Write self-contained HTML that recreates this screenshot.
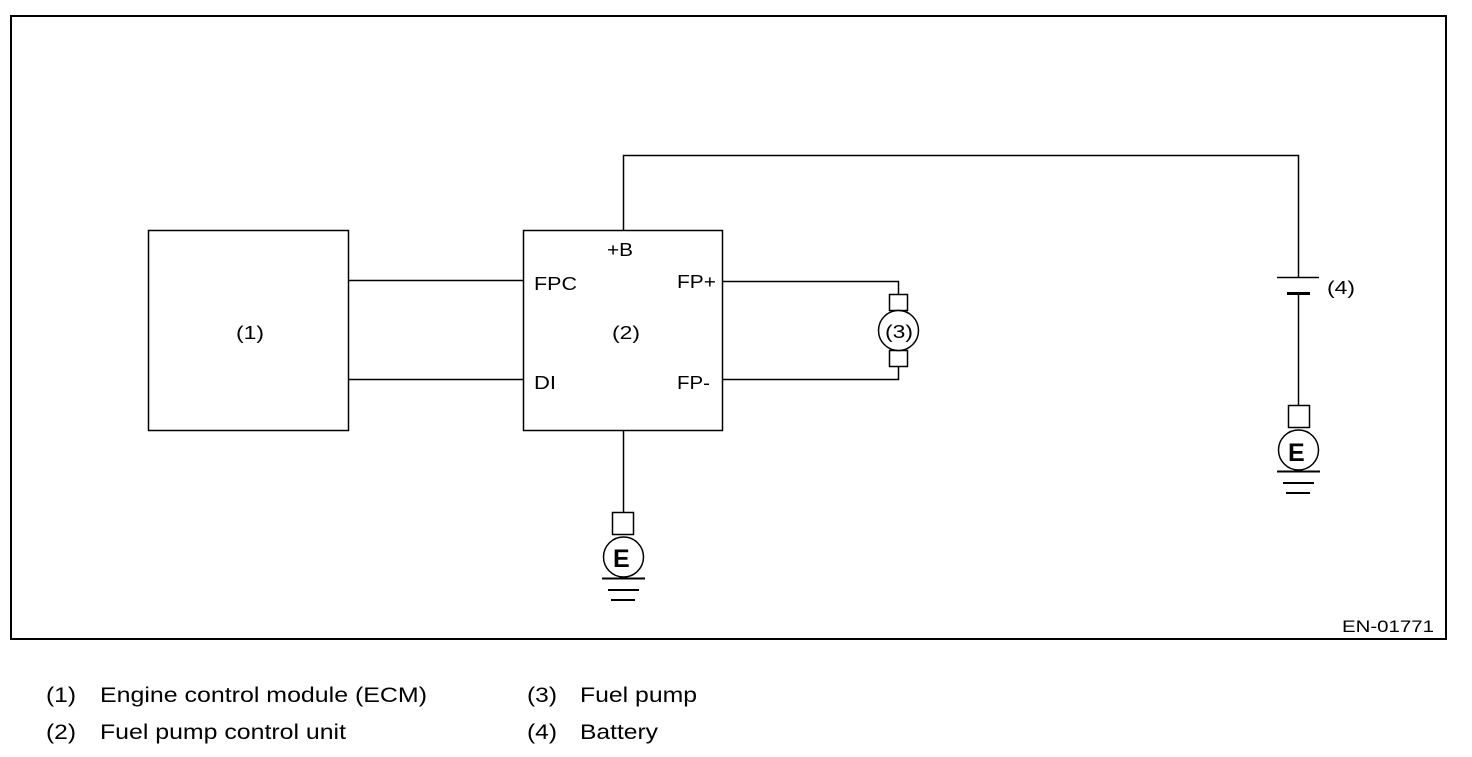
<!DOCTYPE html>
<html><head><style>
body{margin:0;background:#fff;width:1472px;height:752px;overflow:hidden;font-family:"Liberation Sans",Arial,sans-serif}
</style></head><body>
<svg width="1472" height="752" viewBox="0 0 1472 752" xmlns="http://www.w3.org/2000/svg" font-family="Liberation Sans, Arial, sans-serif">
<g fill="none" stroke="#000" stroke-width="1.5">
<rect x="11" y="16" width="1435" height="623" stroke-width="2"/>
<rect x="148.5" y="230.5" width="200" height="200"/>
<rect x="523.5" y="230.5" width="199" height="200"/>
<line x1="348" y1="280.5" x2="523" y2="280.5"/>
<line x1="348" y1="379.5" x2="523" y2="379.5"/>
<polyline points="623.5,230 623.5,155.5 1298.5,155.5 1298.5,277"/>
<line x1="1298.5" y1="293" x2="1298.5" y2="405"/>
<line x1="1277" y1="277.5" x2="1319" y2="277.5"/>
<line x1="1287" y1="293.5" x2="1310" y2="293.5" stroke-width="3"/>
<polyline points="723,281.5 898.5,281.5 898.5,294"/>
<polyline points="723,379.5 898.5,379.5 898.5,366"/>
<rect x="889.5" y="294.5" width="18" height="16"/>
<rect x="889.5" y="350.5" width="18" height="16"/>
<circle cx="898.5" cy="330.5" r="20" fill="#fff"/>
<line x1="623.5" y1="431" x2="623.5" y2="512"/>
<rect x="612.5" y="512.5" width="21" height="22"/>
<circle cx="623.5" cy="557" r="20" fill="#fff"/>
<line x1="602" y1="578.5" x2="645" y2="578.5" stroke-width="2"/>
<line x1="608" y1="590" x2="639" y2="590" stroke-width="2"/>
<line x1="611" y1="600" x2="635" y2="600" stroke-width="2"/>
<rect x="1288.5" y="405.5" width="21" height="22"/>
<circle cx="1298.5" cy="450" r="20" fill="#fff"/>
<line x1="1277" y1="471.5" x2="1320" y2="471.5" stroke-width="2"/>
<line x1="1283" y1="483" x2="1314" y2="483" stroke-width="2"/>
<line x1="1286" y1="493" x2="1310" y2="493" stroke-width="2"/>
</g>
<g font-size="18" fill="#000">
<text x="236" y="339" textLength="28" lengthAdjust="spacingAndGlyphs">(1)</text>
<text x="612" y="339" textLength="28" lengthAdjust="spacingAndGlyphs">(2)</text>
<text x="885" y="338" textLength="28" lengthAdjust="spacingAndGlyphs">(3)</text>
<text x="1327" y="294" textLength="28" lengthAdjust="spacingAndGlyphs">(4)</text>
<text x="607" y="256" textLength="26" lengthAdjust="spacingAndGlyphs">+B</text>
<text x="534" y="290" textLength="43" lengthAdjust="spacingAndGlyphs">FPC</text>
<text x="677" y="288" textLength="39" lengthAdjust="spacingAndGlyphs">FP+</text>
<text x="534" y="389" textLength="22" lengthAdjust="spacingAndGlyphs">DI</text>
<text x="677" y="389" textLength="33" lengthAdjust="spacingAndGlyphs">FP-</text>
<text x="1342" y="632" font-size="17" textLength="92" lengthAdjust="spacingAndGlyphs">EN-01771</text>
<text x="613" y="567" font-size="25" font-weight="bold">E</text>
<text x="1288" y="461" font-size="25" font-weight="bold">E</text>
<g font-size="21">
<text x="46" y="702" textLength="30" lengthAdjust="spacingAndGlyphs">(1)</text>
<text x="100" y="702" textLength="327" lengthAdjust="spacingAndGlyphs">Engine control module (ECM)</text>
<text x="46" y="739" textLength="30" lengthAdjust="spacingAndGlyphs">(2)</text>
<text x="100" y="739" textLength="246" lengthAdjust="spacingAndGlyphs">Fuel pump control unit</text>
<text x="527" y="702" textLength="30" lengthAdjust="spacingAndGlyphs">(3)</text>
<text x="580" y="702" textLength="117" lengthAdjust="spacingAndGlyphs">Fuel pump</text>
<text x="527" y="739" textLength="30" lengthAdjust="spacingAndGlyphs">(4)</text>
<text x="580" y="739" textLength="78" lengthAdjust="spacingAndGlyphs">Battery</text>
</g>
</g>
</svg>
</body></html>
